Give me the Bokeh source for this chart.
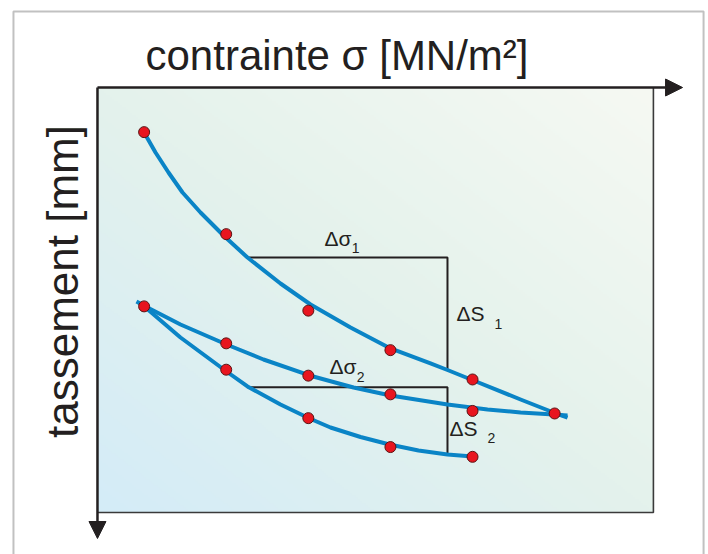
import numpy as np
from bokeh.plotting import figure
from bokeh.models import Range1d, Arrow, NormalHead, Label, BoxAnnotation
from bokeh.embed import file_html
from bokeh.resources import INLINE

# ---- data (contrainte sigma, tassement) ----
load_sigma = [1, 2, 3, 4, 5, 6]
load_settle = [1.05, 3.45, 5.25, 6.18, 6.87, 7.67]
unload_sigma = [5, 4, 3, 2, 1]
unload_settle = [7.61, 7.22, 6.78, 6.02, 5.15]
reload_sigma = [2, 3, 4, 5]
reload_settle = [6.64, 7.78, 8.46, 8.69]

curve1_sigma = [1.0, 1.139, 1.297, 1.468, 1.687, 1.967, 2.259, 2.661, 3.027, 3.514,
                4.001, 4.488, 4.695, 5.012, 5.585, 5.987, 6.157]
curve1_settle = [1.06, 1.529, 2.0, 2.471, 2.941, 3.482, 4.0, 4.612, 5.106, 5.647,
                 6.141, 6.494, 6.647, 6.894, 7.341, 7.647, 7.765]
curve2_sigma = [6.157, 5.987, 5.585, 5.183, 4.695, 4.001, 3.551, 3.015, 2.454, 2.004,
                1.443, 1.017, 0.907]
curve2_settle = [7.718, 7.694, 7.647, 7.576, 7.459, 7.247, 7.059, 6.776, 6.4, 6.047,
                 5.576, 5.153, 5.035]
curve3_sigma = [0.956, 1.017, 1.443, 2.004, 2.259, 2.661, 3.015, 3.270, 3.636, 3.989,
                4.342, 4.695, 5.000]
curve3_settle = [5.082, 5.176, 5.882, 6.682, 7.035, 7.459, 7.788, 8.0, 8.224, 8.4,
                 8.541, 8.635, 8.682]

step1_sigma = [2.259, 4.695, 4.695]
step1_settle = [4.0, 4.0, 6.659]
step2_sigma = [2.255, 4.695, 4.695]
step2_settle = [7.052, 7.052, 8.635]

# plotting box (axes origin at top-left, tassement grows downward)
X0, X1 = 0.432, 7.203
Y0, Y1 = 0.0, 10.0
INK = "#231f20"
BLUE = "#0a84c6"
FONT = "Liberation Sans"

p = figure(width=708, height=554, x_range=Range1d(-0.7491, 7.8740),
           y_range=Range1d(10.9882, -2.0471),
           output_backend="svg", toolbar_location=None,
           x_axis_type=None, y_axis_type=None, min_border=0,
           border_fill_color="white", background_fill_color="white")
p.grid.visible = False
p.outline_line_color = None

# background gradient (style)
ny, nx = 213, 278
u = np.linspace(0, 1, nx)[None, :]
v = 1 - np.linspace(0, 1, ny)[:, None]
t = (u + v) / 2
c0 = np.array([212, 236, 248], float)
c1 = np.array([228, 242, 236], float)
c2 = np.array([246, 249, 243], float)
t3 = t[..., None]
col = np.where(t3 < 0.5, c0 + (c1 - c0) * (t3 * 2), c1 + (c2 - c1) * ((t3 - 0.5) * 2))
img = np.empty((ny, nx), dtype=np.uint32)
view = img.view(dtype=np.uint8).reshape((ny, nx, 4))
view[..., 0] = col[..., 0].astype(np.uint8)
view[..., 1] = col[..., 1].astype(np.uint8)
view[..., 2] = col[..., 2].astype(np.uint8)
view[..., 3] = 255
p.image_rgba(image=[img], x=X0, y=Y0, dw=X1 - X0, dh=Y1 - Y0)

# box border (right and bottom)
p.line([X0, X1, X1], [Y1, Y1, Y0], line_color="#3a3a3a", line_width=1.6)

# construction lines
p.line(step1_sigma, step1_settle, line_color=INK, line_width=2)
p.line(step2_sigma, step2_settle, line_color=INK, line_width=2)

# fitted curves
for xs, ys in [(curve1_sigma, curve1_settle), (curve2_sigma, curve2_settle),
               (curve3_sigma, curve3_settle)]:
    p.line(xs, ys, line_color=BLUE, line_width=4, line_join="round")

# measured points
for xs, ys in [(load_sigma, load_settle), (unload_sigma, unload_settle),
               (reload_sigma, reload_settle)]:
    p.scatter(xs, ys, size=11, fill_color="#e8151f", line_color="#5a1414", line_width=1)

# annotations
def lab(x, y, text, size, **kw):
    p.add_layout(Label(x=x, y=y, text=text, text_font=FONT, text_font_size=size,
                       text_color=INK, text_baseline="alphabetic", **kw))

lab(3.197, 3.56, "Δσ", "21px")
lab(3.530, 3.774, "1", "14px")
lab(4.805, 5.325, "ΔS", "21px")
lab(5.268, 5.553, "1", "14px")
lab(3.258, 6.572, "Δσ", "21px")
lab(3.590, 6.80, "2", "14px")
lab(4.720, 8.031, "ΔS", "21px")
lab(5.182, 8.245, "2", "14px")

lab(1.017, -0.753, "contrainte σ [MN/m²]", "42px")
lab(0.0, 4.565, "tassement [mm]", "44px", angle=90, angle_units="deg", text_align="center")

# axis arrows
p.add_layout(Arrow(end=NormalHead(size=17, fill_color=INK, line_color=INK),
                   x_start=X0, y_start=Y0, x_end=7.558, y_end=Y0,
                   line_width=2.5, line_color=INK))
p.add_layout(Arrow(end=NormalHead(size=17, fill_color=INK, line_color=INK),
                   x_start=X0, y_start=Y0, x_end=X0, y_end=10.612,
                   line_width=2.5, line_color=INK))

# outer frame
p.add_layout(BoxAnnotation(left=-0.591, right=7.814, top=-1.788, bottom=11.3,
                           fill_alpha=0, line_color="#333333", line_width=2))

open("out.html", "w").write(file_html(p, INLINE))
